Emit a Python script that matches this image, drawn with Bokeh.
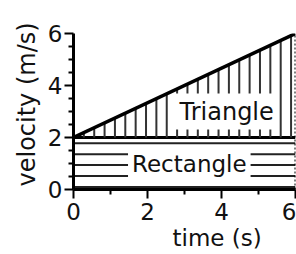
import numpy as np
from bokeh.plotting import figure
from bokeh.models import FixedTicker, Label, Range1d, Title
from bokeh.embed import file_html
from bokeh.resources import INLINE

# data
t_range = [0, 6]          # time (s)
v_line = [2, 6]           # velocity at start / end (m/s)
v0 = 2                    # base velocity (rectangle height)
x_ticks = [0, 2, 4, 6]
x_minor = [1, 3, 5]
y_ticks = [0, 2, 4, 6]
y_minor = [0.5, 1, 1.5, 2.5, 3, 3.5, 4.5, 5, 5.5]

FONT = "DejaVu Sans"

p = figure(width=296, height=250, output_backend="svg", toolbar_location=None,
           x_range=Range1d(0, 6), y_range=Range1d(0, 6),
           min_border_left=73, min_border_right=1, min_border_top=33, min_border_bottom=60)
p.outline_line_color = None
p.xgrid.visible = False
p.ygrid.visible = False
p.background_fill_color = "white"

# rectangle hatch (horizontal lines)
h_step = 0.42
h_levels = np.arange(v0 - 0.22, 0, -h_step)
p.segment(x0=[t_range[0]] * len(h_levels), x1=[t_range[1]] * len(h_levels),
          y0=h_levels, y1=h_levels, line_color="#222222", line_width=2)
# rectangle top / bottom
p.segment(x0=[t_range[0], t_range[0]], x1=[t_range[1], t_range[1]], y0=[0, v0], y1=[0, v0],
          line_color="black", line_width=3)

# triangle hatch (vertical lines)
v_step = 0.28
v_xs = np.arange(v_step, t_range[1], v_step)
v_tops = np.interp(v_xs, t_range, v_line)
p.segment(x0=v_xs, x1=v_xs, y0=[v0] * len(v_xs), y1=v_tops, line_color="#333333", line_width=2)
# triangle right edge (dotted)
p.line(x=[t_range[1], t_range[1]], y=[0, v_line[1]], line_color="black", line_width=2, line_dash="2 2")
# velocity line
p.line(x=t_range, y=v_line, line_color="black", line_width=3.5)

# labels
tri = Label(x=4.14, y=3.0, text="Triangle", text_font=FONT, text_font_size="24px",
            text_align="center", text_baseline="middle", text_color="#111111",
            background_fill_color="white", padding=4)
rect = Label(x=3.13, y=0.98, text="Rectangle", text_font=FONT, text_font_size="23px",
             text_align="center", text_baseline="middle", text_color="#111111",
             background_fill_color="white", padding=4)
p.add_layout(tri)
p.add_layout(rect)

# axes
for ax in (p.xaxis[0], p.yaxis[0]):
    ax.axis_line_width = 3
    ax.axis_line_color = "black"
    ax.major_tick_line_width = 2
    ax.minor_tick_line_width = 2
    ax.major_tick_line_color = "black"
    ax.minor_tick_line_color = "black"
    ax.major_tick_out = 9
    ax.major_tick_in = 0
    ax.minor_tick_out = 5
    ax.minor_tick_in = 0
    ax.major_label_text_font = FONT
    ax.major_label_text_font_size = "23px"
    ax.major_label_text_color = "#111111"
p.xaxis.ticker = FixedTicker(ticks=x_ticks, minor_ticks=x_minor)
p.yaxis.ticker = FixedTicker(ticks=y_ticks, minor_ticks=y_minor)
p.xaxis.major_label_standoff = 4
p.yaxis.major_label_standoff = 2

xt = Title(text="time (s)", align="left", offset=99, text_font=FONT, text_font_size="23px",
           text_font_style="normal", text_color="#111111", standoff=0)
yt = Title(text="velocity (m/s)", align="left", offset=3, text_font=FONT, text_font_size="24px",
           text_font_style="normal", text_color="#111111", standoff=8)
p.add_layout(xt, "below")
p.add_layout(yt, "left")

open("out.html", "w").write(file_html(p, INLINE))
